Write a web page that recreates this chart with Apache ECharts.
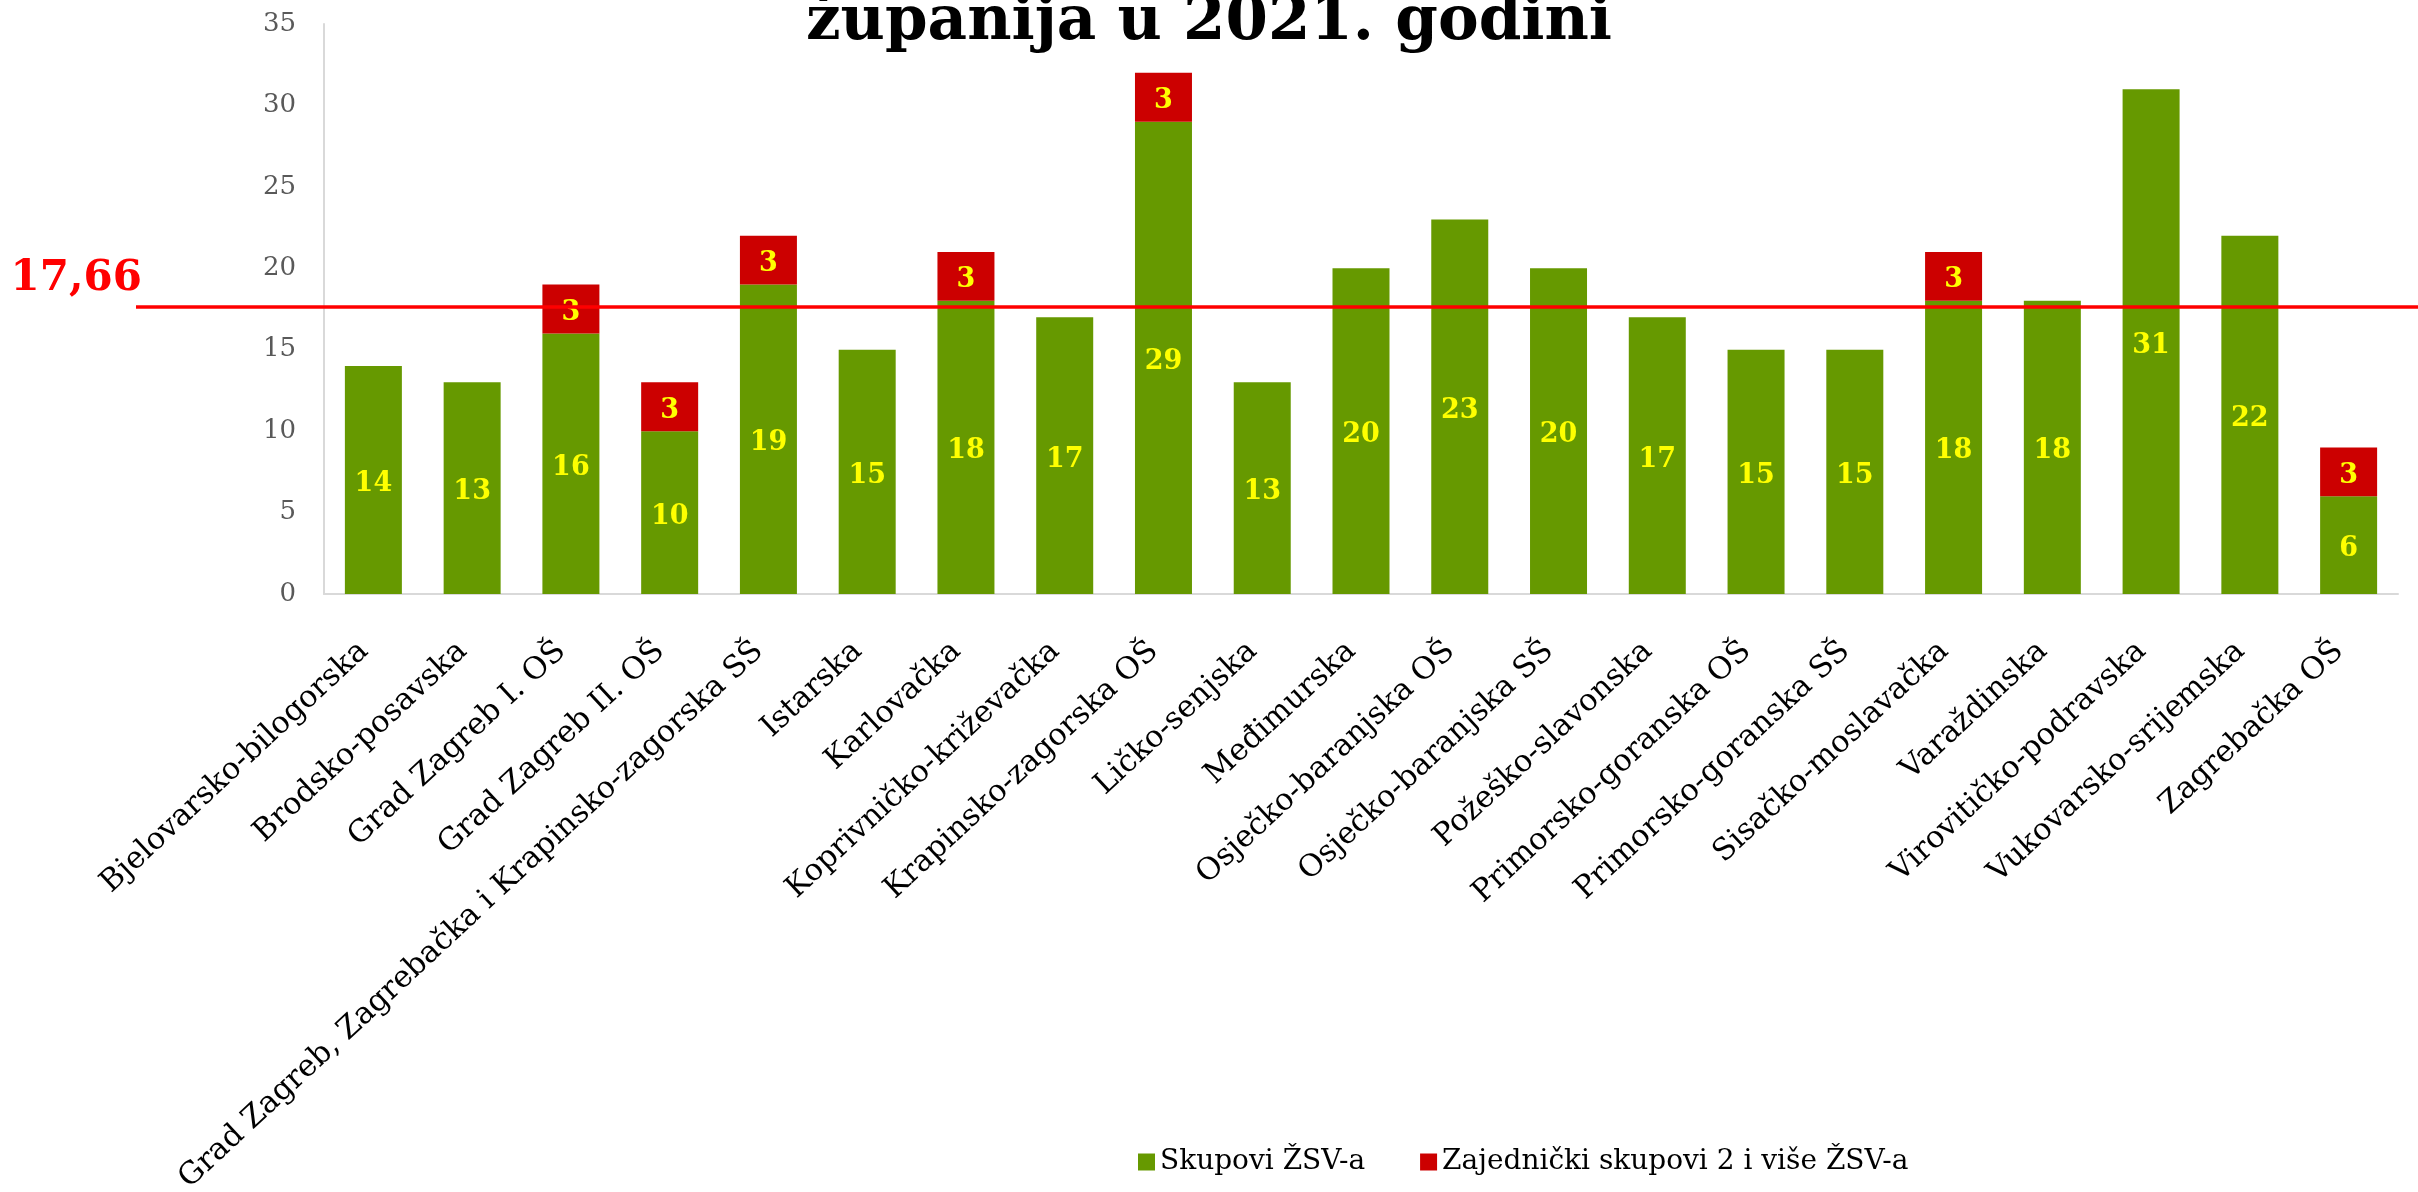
<!DOCTYPE html>
<html>
<head>
<meta charset="utf-8">
<script src="https://cdn.jsdelivr.net/npm/echarts@6/dist/echarts.min.js"></script>
<style>
  html, body { margin: 0; padding: 0; background: #fff; }
  #chart { width: 2418px; height: 1192px; }
</style>
</head>
<body>
<div id="chart"></div>
<script>
/* ---- Data ---- */
const categories = [
  "Bjelovarsko-bilogorska", "Brodsko-posavska", "Grad Zagreb I. OŠ", "Grad Zagreb II. OŠ",
  "Grad Zagreb, Zagrebačka i Krapinsko-zagorska SŠ", "Istarska", "Karlovačka",
  "Koprivničko-križevačka", "Krapinsko-zagorska OŠ", "Ličko-senjska", "Međimurska",
  "Osječko-baranjska OŠ", "Osječko-baranjska SŠ", "Požeško-slavonska", "Primorsko-goranska OŠ",
  "Primorsko-goranska SŠ", "Sisačko-moslavačka", "Varaždinska", "Virovitičko-podravska",
  "Vukovarsko-srijemska", "Zagrebačka OŠ"
];
const skupovi = [14, 13, 16, 10, 19, 15, 18, 17, 29, 13, 20, 23, 20, 17, 15, 15, 18, 18, 31, 22, 6];
const zajednicki = [null, null, 3, 3, 3, null, 3, null, 3, null, null, null, null, null, null, null, 3, null, null, null, 3];
const seriesNames = ["Skupovi ŽSV-a", "Zajednički skupovi 2 i više ŽSV-a"];
const prosjek = 17.66;
const yTicks = { min: 0, max: 35, interval: 5 };
const titleText = "županija u 2021. godini";

const SERIF = "'DejaVu Serif', 'Liberation Serif', serif";
const GREEN = "#669900", RED = "#CC0000", YELLOW = "#FFFF00";

const chart = echarts.init(document.getElementById("chart"), null, { renderer: "canvas" });

const barLabel = {
  show: true, position: "inside", offset: [0, 4], color: YELLOW,
  fontFamily: SERIF, fontWeight: "bold", fontSize: 27,
  formatter: p => (p.value == null ? "" : String(p.value))
};

chart.setOption({
  backgroundColor: "#fff",
  animation: false,
  title: {
    text: titleText, left: "center", top: -7, padding: 0,
    textStyle: { fontFamily: SERIF, fontWeight: "bold", fontSize: 61, color: "#000" }
  },
  legend: {
    left: 1133, top: 1143, itemWidth: 17, itemHeight: 17, itemGap: 55,
    icon: "rect",
    textStyle: { fontFamily: SERIF, fontSize: 28, color: "#000" },
    data: seriesNames
  },
  grid: { left: 324, right: 20, top: 24, bottom: 598, containLabel: false, outerBoundsMode: "none" },
  xAxis: {
    type: "category", data: categories,
    axisLine: { lineStyle: { color: "#D9D9D9", width: 2 } },
    axisTick: { show: false },
    axisLabel: {
      interval: 0, rotate: 43, margin: 44, padding: [11, 13, 0, 0],
      fontFamily: SERIF, fontSize: 30.5, color: "#000"
    }
  },
  yAxis: {
    type: "value", min: yTicks.min, max: yTicks.max, interval: yTicks.interval,
    axisLine: { show: true, lineStyle: { color: "#D9D9D9", width: 2 } },
    axisTick: { show: false },
    splitLine: { show: false },
    axisLabel: { fontFamily: SERIF, fontSize: 26, color: "#595959", margin: 28 }
  },
  series: [
    {
      name: seriesNames[0], type: "bar", stack: "total", barWidth: 57,
      itemStyle: { color: GREEN }, label: barLabel, data: skupovi,
      markLine: {
        silent: true, symbol: "none",
        lineStyle: { color: "#FF0000", width: 3.5, type: "solid" },
        label: {
          show: true, position: "start", distance: 0, offset: [6, -27],
          formatter: () => prosjek.toFixed(2).replace(".", ","),
          fontFamily: SERIF, fontWeight: "bold", fontSize: 42, color: "#FF0000"
        },
        data: [[{ x: 136, yAxis: prosjek }, { x: 2418, yAxis: prosjek }]]
      }
    },
    {
      name: seriesNames[1], type: "bar", stack: "total", barWidth: 57,
      itemStyle: { color: RED }, label: barLabel, data: zajednicki
    }
  ]
});
</script>
</body>
</html>
